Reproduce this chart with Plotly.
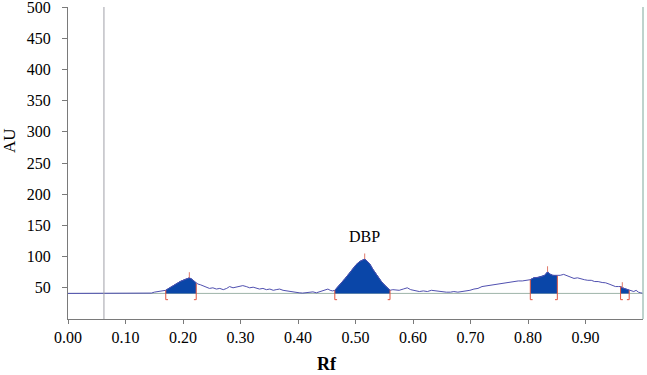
import plotly.graph_objects as go

# Densitogram trace (Rf vs AU)
rf = [0.000, 0.020, 0.040, 0.060, 0.080, 0.090, 0.095, 0.100, 0.105, 0.110, 0.115, 0.120,
      0.125, 0.130, 0.135, 0.140, 0.145, 0.150, 0.155, 0.160, 0.165, 0.170, 0.175, 0.180,
      0.185, 0.190, 0.195, 0.200, 0.205, 0.211, 0.215, 0.220, 0.223, 0.226, 0.230, 0.235,
      0.240, 0.246, 0.252, 0.258, 0.264, 0.270, 0.276, 0.281, 0.287, 0.293, 0.299, 0.304,
      0.310, 0.316, 0.322, 0.328, 0.333, 0.339, 0.345, 0.351, 0.357, 0.362, 0.368, 0.374,
      0.380, 0.386, 0.392, 0.397, 0.402, 0.408, 0.414, 0.420, 0.426, 0.432, 0.438, 0.444,
      0.452, 0.456, 0.460, 0.464, 0.470, 0.476, 0.482, 0.489, 0.495, 0.501, 0.507, 0.512,
      0.516, 0.520, 0.525, 0.530, 0.535, 0.540, 0.545, 0.550, 0.555, 0.560, 0.565, 0.570,
      0.576, 0.583, 0.590, 0.596, 0.603, 0.611, 0.618, 0.625, 0.632, 0.639, 0.645, 0.652,
      0.658, 0.665, 0.671, 0.678, 0.685, 0.692, 0.699, 0.706, 0.713, 0.720, 0.727, 0.734,
      0.741, 0.748, 0.755, 0.762, 0.769, 0.776, 0.783, 0.790, 0.797, 0.804, 0.810, 0.815,
      0.819, 0.824, 0.829, 0.834, 0.838, 0.843, 0.847, 0.851, 0.856, 0.862, 0.868, 0.874,
      0.880, 0.886, 0.892, 0.898, 0.904, 0.910, 0.916, 0.922, 0.929, 0.935, 0.941, 0.947,
      0.952, 0.957, 0.961, 0.964, 0.967, 0.970, 0.973, 0.976, 0.980, 0.984, 0.988, 0.992,
      0.996, 1.000]
au = [41, 41, 41, 41, 41, 41, 41, 42, 41.5, 42, 41, 42,
      41.5, 42, 41, 42, 41.5, 43, 44, 45, 46, 46, 49, 52,
      55, 58, 60, 62, 64, 66, 64, 60, 57, 56, 55, 53,
      51, 49, 50, 48, 49, 47, 49, 52, 50, 51, 52, 53.5,
      52, 50, 51, 49, 48, 49, 47, 48, 46, 47, 48, 46,
      45, 44, 43, 42, 42, 41.5, 42, 43, 43.5, 42, 44, 46,
      48, 46, 45, 46, 52, 58, 65, 73, 80, 87, 92, 95,
      96, 93, 88, 80, 73, 66, 60, 55, 50, 46, 47, 46,
      46, 48, 50, 47, 46, 44, 45, 44, 46, 45, 45, 44,
      43, 43, 44, 43, 44, 44, 46, 48, 49, 52, 53, 54,
      55, 57, 57, 58, 59, 60, 61, 61, 62, 63, 66, 66,
      67, 68, 70, 75.5, 72, 70, 70, 69, 70, 71.5, 69, 67,
      65, 66, 64, 63, 62, 62, 60, 60, 58.5, 58, 56, 54,
      52, 52, 52, 50, 49, 48, 47, 46, 45, 44, 46, 43,
      42, 41]

baseline_au = 41
peak_start = [0.170, 0.464, 0.804, 0.961]
peak_end = [0.223, 0.560, 0.851, 0.976]
peak_apex = [0.211, 0.516, 0.834, 0.964]
peak_label = ["", "DBP", "", ""]

x_ticks = [0.0, 0.1, 0.2, 0.3, 0.4, 0.5, 0.6, 0.7, 0.8, 0.9]
x_ticktext = ["0.00", "0.10", "0.20", "0.30", "0.40", "0.50", "0.60", "0.70", "0.80", "0.90"]
y_ticks = [50, 100, 150, 200, 250, 300, 350, 400, 450, 500]
start_line_rf = 0.0625

FILL = "#0a46a8"
LINE = "#5050b0"
RED = "#e2553f"
FONT = "Liberation Serif"

fig = go.Figure()

# baseline
fig.add_trace(go.Scatter(x=[0, 1], y=[baseline_au, baseline_au], mode="lines",
                         line=dict(color="#9fb5aa", width=1), hoverinfo="skip", showlegend=False))

# filled peaks
for s, e in zip(peak_start, peak_end):
    seg_x = [x for x in rf if s <= x <= e]
    seg_y = [y for x, y in zip(rf, au) if s <= x <= e]
    fig.add_trace(go.Scatter(x=seg_x, y=[baseline_au] * len(seg_x), mode="lines",
                             line=dict(width=0, color=FILL), hoverinfo="skip", showlegend=False))
    fig.add_trace(go.Scatter(x=seg_x, y=seg_y, mode="lines", fill="tonexty",
                             fillcolor=FILL, line=dict(width=1, color=FILL),
                             hoverinfo="skip", showlegend=False))

# curve
fig.add_trace(go.Scatter(x=rf, y=au, mode="lines", line=dict(color=LINE, width=1),
                         showlegend=False))

# integration brackets and apex ticks
bx, by = [], []
for s, e in zip(peak_start, peak_end):
    ys = au[rf.index(s)]
    ye = au[rf.index(e)]
    bx += [s, s, s + 0.004, None]
    by += [ys, baseline_au - 10, baseline_au - 10, None]
    bx += [e, e, e - 0.004, None]
    by += [ye, baseline_au - 10, baseline_au - 10, None]
fig.add_trace(go.Scatter(x=bx, y=by, mode="lines", line=dict(color=RED, width=1),
                         hoverinfo="skip", showlegend=False))
ax, ay = [], []
for a in peak_apex:
    i = min(range(len(rf)), key=lambda k: abs(rf[k] - a))
    ax += [rf[i], rf[i], None]
    ay += [au[i], au[i] + 9, None]
fig.add_trace(go.Scatter(x=ax, y=ay, mode="lines", line=dict(color="#e07a6a", width=1),
                         hoverinfo="skip", showlegend=False))

# labels
for a, lab in zip(peak_apex, peak_label):
    if lab:
        i = min(range(len(rf)), key=lambda k: abs(rf[k] - a))
        fig.add_annotation(x=rf[i], y=au[i] + 20, text=lab, showarrow=False,
                           yanchor="bottom", font=dict(family=FONT, size=16, color="black"))

fig.add_shape(type="line", x0=start_line_rf, x1=start_line_rf, y0=0, y1=500,
              xref="x", yref="y", line=dict(color="#a0a0a8", width=1))
fig.add_shape(type="line", x0=1, x1=1, y0=0, y1=1, xref="paper", yref="paper",
              line=dict(color="#a8c4bc", width=1.5))

fig.add_annotation(x=-0.1026, y=0.5705, xref="paper", yref="paper", text="AU", textangle=-90,
                   xanchor="center", yanchor="middle",
                   showarrow=False, font=dict(family=FONT, size=17, color="black"))
fig.add_annotation(x=0.450, y=-0.144, xref="paper", yref="paper", text="<b>Rf</b>",
                   xanchor="center", yanchor="middle",
                   showarrow=False, font=dict(family=FONT, size=18, color="black"))

fig.update_layout(
    width=647, height=375,
    margin=dict(l=68, r=4, t=7, b=56, autoexpand=False),
    paper_bgcolor="white", plot_bgcolor="white",
    font=dict(family=FONT, size=16, color="black"),
    xaxis=dict(range=[0, 1], tickvals=x_ticks, ticktext=x_ticktext, showgrid=False,
               zeroline=False, showline=True, linecolor="#7a7a7a", linewidth=1,
               ticks="outside", ticklen=4, tickcolor="#7a7a7a",
               tickfont=dict(family=FONT, size=16)),
    yaxis=dict(range=[0, 500.01], tickvals=y_ticks, showgrid=False, zeroline=False,
               showline=True, linecolor="#7a7a7a", linewidth=1, ticks="outside",
               ticklen=5, tickcolor="#7a7a7a", ticklabelstandoff=8,
               ticklabeloverflow="allow",
               tickfont=dict(family=FONT, size=16)),
)

fig.write_html("out.html", config={"displayModeBar": False},
               post_script="document.body.style.margin='0';document.body.style.overflow='hidden';")
